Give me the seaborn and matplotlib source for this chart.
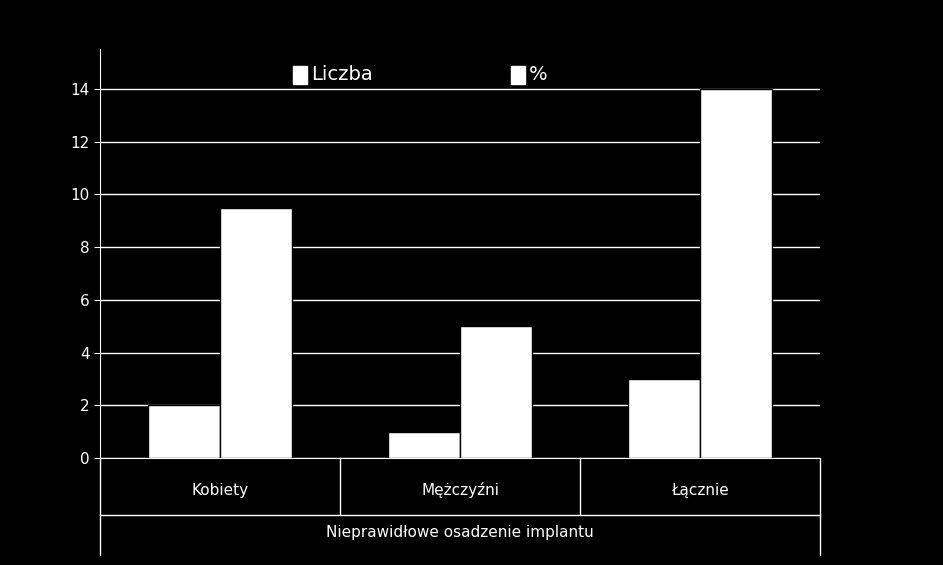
import matplotlib
matplotlib.use("Agg")
import matplotlib.pyplot as plt
import seaborn as sns
import pandas as pd
from matplotlib.lines import Line2D

categories = ["Kobiety", "Mężczyźni", "Łącznie"]
liczba = [2, 1, 3]
procent = [9.5, 5, 14]
series = ["Liczba", "%"]
yticks = [0, 2, 4, 6, 8, 10, 12, 14]

df = pd.DataFrame({
    "cat": categories * 2,
    "val": liczba + procent,
    "ser": [series[0]] * 3 + [series[1]] * 3,
})

sns.set_style("dark")
plt.rcParams['font.family'] = ['DejaVu Sans']
fig = plt.figure(figsize=(9.43, 5.65), dpi=100, facecolor="black")
ax = fig.add_axes([0.106, 0.189, 0.764, 0.724], facecolor="black")
sns.barplot(data=df, x="cat", y="val", hue="ser", palette=["white", "white"],
            edgecolor="black", linewidth=1, width=0.6, ax=ax, legend=False)
ax.set_ylim(0, 15.5)
ax.set_yticks(yticks)
ax.set_yticklabels([str(t) for t in yticks], color="white", fontsize=11)
ax.set_xticks([])
ax.set_xlabel("")
ax.set_ylabel("")
ax.grid(axis="y", color="white", linewidth=1)
ax.grid(axis="x", visible=False)
ax.set_axisbelow(True)
for s in ["top", "right"]:
    ax.spines[s].set_visible(False)
for s in ["left", "bottom"]:
    ax.spines[s].set_color("white")
ax.tick_params(axis="y", colors="white", length=4, left=True)

# category table
for i, c in enumerate(categories):
    fig.text(0.106 + 0.764 * (i + 0.5) / 3, 1 - 490 / 565, c, color="white",
             ha="center", va="center", fontsize=11)
for xp in [100, 340, 580, 820]:
    fig.add_artist(Line2D([xp / 943] * 2, [1 - 458 / 565, 1 - 515 / 565], color="white", lw=1))
fig.add_artist(Line2D([100 / 943] * 2, [1 - 515 / 565, 1 - 555 / 565], color="white", lw=1))
fig.add_artist(Line2D([820 / 943] * 2, [1 - 515 / 565, 1 - 555 / 565], color="white", lw=1))
fig.add_artist(Line2D([100 / 943, 820 / 943], [1 - 515 / 565] * 2, color="white", lw=1))
fig.text(460 / 943, 1 - 533 / 565, "Nieprawidłowe osadzenie implantu", color="white",
         ha="center", va="center", fontsize=11)

# legend
for xp, lab in [(293, series[0]), (511, series[1])]:
    fig.patches.append(plt.Rectangle((xp / 943, 1 - 84 / 565), 14 / 943, 18 / 565,
                                     transform=fig.transFigure, color="white"))
    fig.text((xp + 18) / 943, 1 - 75 / 565, lab, color="white", fontsize=14, va="center")

fig.savefig("out.png", dpi=100, facecolor="black")
